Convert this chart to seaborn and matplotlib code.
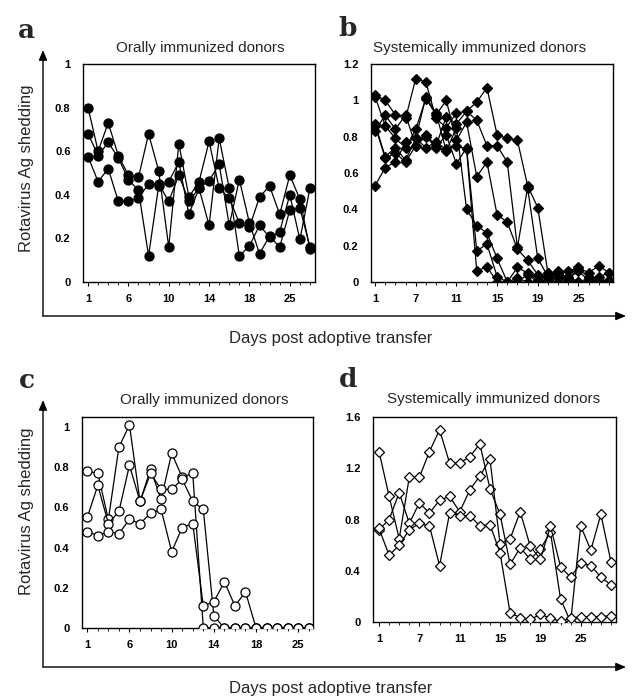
import numpy as np
import pandas as pd
import matplotlib
matplotlib.use("Agg")
import matplotlib.pyplot as plt
import seaborn as sns

# ---------------- data ----------------
a_labels = ["1", "6", "10", "14", "18", "25"]
b_labels = ["1", "7", "11", "15", "19", "25"]
c_labels = ["1", "6", "10", "14", "18", "25"]
d_labels = ["1", "7", "11", "15", "19", "25"]

a1 = [0.80, 0.60, 0.73, 0.58, 0.49, 0.48, 0.68, 0.51, 0.16, 0.635, 0.39, 0.46, 0.645, 0.43, 0.385, 0.27, 0.25, 0.39, 0.44, 0.31, 0.49, 0.38, 0.15]
a2 = [0.68, 0.58, 0.64, 0.57, 0.47, 0.42, 0.12, 0.44, 0.46, 0.55, 0.31, 0.43, 0.26, 0.66, 0.43, 0.12, 0.165, 0.26, 0.205, 0.23, 0.40, 0.195, 0.43]
a3 = [0.575, 0.46, 0.52, 0.37, 0.37, 0.385, 0.45, 0.45, 0.37, 0.49, 0.37, 0.43, 0.465, 0.54, 0.26, 0.47, 0.27, 0.13, 0.21, 0.16, 0.33, 0.34, 0.16]

b1 = [0.83, 0.92, 0.84, 0.92, 0.75, 0.81, 0.75, 0.91, 0.87, 0.94, 0.99, 1.07, 0.81, 0.79, 0.78, 0.53, 0.41, 0.05, 0.04, 0.06, 0.08, 0.05, 0.09, 0.05]
b2 = [1.03, 1.00, 0.92, 0.90, 1.12, 1.10, 0.90, 0.85, 0.93, 0.94, 0.89, 0.75, 0.75, 0.66, 0.19, 0.52, 0.13, 0.03, 0.05, 0.02, 0.06, 0.01, 0.03, 0.05]
b3 = [1.02, 0.86, 0.79, 0.74, 0.84, 1.01, 0.92, 1.00, 0.78, 0.88, 0.58, 0.66, 0.37, 0.33, 0.18, 0.12, 0.04, 0.02, 0.06, 0.02, 0.07, 0.03, 0.01, 0.00]
b4 = [0.87, 0.69, 0.74, 0.67, 0.79, 1.02, 0.93, 0.72, 0.85, 0.40, 0.31, 0.27, 0.13, 0.00, 0.08, 0.05, 0.01, 0.00, 0.03, 0.01, 0.00, 0.02, 0.00, 0.01]
b5 = [0.86, 0.68, 0.71, 0.66, 0.75, 0.80, 0.74, 0.81, 0.65, 0.74, 0.17, 0.21, 0.03, 0.00, 0.00, 0.04, 0.00, 0.01, 0.00, 0.00, 0.00, 0.00, 0.00, 0.00]
b6 = [0.53, 0.63, 0.66, 0.77, 0.79, 0.74, 0.77, 0.73, 0.75, 0.73, 0.06, 0.085, 0.00, 0.00, 0.02, 0.00, 0.00, 0.05, 0.00, 0.03, 0.00, 0.00, 0.00, 0.00]

c1 = [0.78, 0.77, 0.54, 0.90, 1.01, 0.63, 0.79, 0.64, 0.87, 0.75, 0.77, 0.0, 0.0, 0.0, 0.0, 0.0, 0.0, 0.0, 0.0, 0.0, 0.0, 0.0]
c2 = [0.55, 0.71, 0.52, 0.58, 0.81, 0.63, 0.77, 0.69, 0.69, 0.74, 0.63, 0.59, 0.06, 0.0, 0.0, 0.0, 0.0, 0.0, 0.0, 0.0, 0.0, 0.0]
c3 = [0.48, 0.46, 0.48, 0.47, 0.54, 0.52, 0.57, 0.59, 0.38, 0.50, 0.52, 0.11, 0.13, 0.23, 0.11, 0.18, 0.0, 0.0, 0.0, 0.0, 0.0, 0.0]

d1 = [1.33, 0.98, 0.65, 1.13, 1.13, 1.33, 1.50, 1.24, 1.24, 1.29, 1.39, 1.04, 0.84, 0.45, 0.58, 0.49, 0.57, 0.70, 0.18, 0.00, 0.75, 0.56, 0.84, 0.47]
d2 = [0.72, 0.80, 1.01, 0.77, 0.93, 0.85, 0.95, 0.98, 0.86, 1.03, 1.14, 1.27, 0.61, 0.65, 0.86, 0.59, 0.49, 0.75, 0.43, 0.35, 0.46, 0.44, 0.35, 0.29]
d3 = [0.73, 0.52, 0.60, 0.72, 0.77, 0.75, 0.44, 0.85, 0.83, 0.83, 0.75, 0.76, 0.54, 0.07, 0.035, 0.02, 0.06, 0.03, 0.005, 0.03, 0.04, 0.04, 0.04, 0.05]

title_oral = "Orally immunized donors"
title_sys = "Systemically immunized donors"
ylabel = "Rotavirus Ag shedding"
xlabel = "Days post adoptive transfer"

# ---------------- style ----------------
sns.set_theme(style="white")
plt.rcParams['font.family'] = ['Liberation Sans', 'DejaVu Sans']

W, H = 633, 700
fig = plt.figure(figsize=(W / 100, H / 100), dpi=100)


def ax_rect(l, r, t, b):
    return [l / W, 1 - b / H, (r - l) / W, (b - t) / H]


def make_panel(rect, series, labels, yticks, ylim, xlim, marker, filled, ms):
    ax = fig.add_axes(rect)
    for s in series:
        df = pd.DataFrame({"x": np.arange(len(s)), "y": s})
        sns.lineplot(data=df, x="x", y="y", ax=ax, color="black", lw=0.9,
                     marker=marker, markersize=ms,
                     markerfacecolor="black" if filled else "white",
                     markeredgecolor="black", markeredgewidth=0.9,
                     legend=False, zorder=3)
    ax.set_xlim(*xlim)
    ax.set_ylim(*ylim)
    ax.set_xlabel("")
    ax.set_ylabel("")
    ax.set_xticks(np.arange(0, 4 * len(labels), 4))
    ax.set_xticklabels(labels, fontsize=8, fontweight="bold")
    ax.set_xticks(np.arange(0, int(xlim[1]) + 1), minor=True)
    ax.tick_params(axis="x", which="major", length=3, width=0.8, pad=6,
                   direction="out", bottom=True, colors="black")
    ax.tick_params(axis="x", which="minor", length=2, width=0.6,
                   direction="out", bottom=True, colors="black")
    ax.set_yticks(yticks)
    ax.set_yticklabels([("%g" % v) for v in yticks], fontsize=8, fontweight="bold")
    ax.tick_params(axis="y", length=0, pad=9, colors="black")
    for sp in ax.spines.values():
        sp.set_color("black")
        sp.set_linewidth(1.0)
    return ax


make_panel(ax_rect(83, 315, 64, 282), [a1, a2, a3], a_labels,
           [0, 0.2, 0.4, 0.6, 0.8, 1.0], (0, 1.0), (-0.5, 22.5), "o", True, 6.5)
make_panel(ax_rect(371, 613, 64, 282), [b1, b2, b3, b4, b5, b6], b_labels,
           [0, 0.2, 0.4, 0.6, 0.8, 1.0, 1.2], (0, 1.2), (-0.4, 23.4), "D", True, 4.8)
make_panel(ax_rect(82, 313, 417, 628), [c1, c2, c3], c_labels,
           [0, 0.2, 0.4, 0.6, 0.8, 1.0], (0, 1.05), (-0.5, 21.4), "o", False, 6.5)
make_panel(ax_rect(373, 616, 417, 622), [d1, d2, d3], d_labels,
           [0, 0.4, 0.8, 1.2, 1.6], (0, 1.6), (-0.6, 23.5), "D", False, 5.0)


def fx(x):
    return x / W


def fy(y):
    return 1 - y / H


# titles
fig.text(fx(200), fy(48), title_oral, fontsize=11, ha="center", va="center")
fig.text(fx(480), fy(48), title_sys, fontsize=11, ha="center", va="center")
fig.text(fx(204), fy(400), title_oral, fontsize=11, ha="center", va="center")
fig.text(fx(494), fy(399), title_sys, fontsize=11, ha="center", va="center")

# panel letters
for lt, (x, y) in zip("abcd", [(26, 30), (348, 29), (27, 381), (348, 380)]):
    fig.text(fx(x), fy(y), lt, fontsize=19, fontweight="bold", ha="center",
             va="center", family=["DejaVu Serif"])

# axis frame arrows
for top, corner in [(50, 316), (400, 667)]:
    fig.add_artist(matplotlib.patches.FancyArrowPatch(
        (fx(43), fy(corner)), (fx(43), fy(top)), transform=fig.transFigure,
        arrowstyle="-|>,head_length=6,head_width=2.5", lw=1.0, color="black",
        shrinkA=0, shrinkB=0))
    fig.add_artist(matplotlib.patches.FancyArrowPatch(
        (fx(43), fy(corner)), (fx(626), fy(corner)), transform=fig.transFigure,
        arrowstyle="-|>,head_length=6,head_width=2.5", lw=1.0, color="black",
        shrinkA=0, shrinkB=0))

# y labels and x labels
fig.text(fx(27), fy(168), ylabel, fontsize=12, rotation=90, ha="center", va="center")
fig.text(fx(27), fy(511), ylabel, fontsize=12, rotation=90, ha="center", va="center")
fig.text(fx(331), fy(339), xlabel, fontsize=12, ha="center", va="center")
fig.text(fx(331), fy(689), xlabel, fontsize=12, ha="center", va="center")

fig.savefig("out.png", dpi=100)
